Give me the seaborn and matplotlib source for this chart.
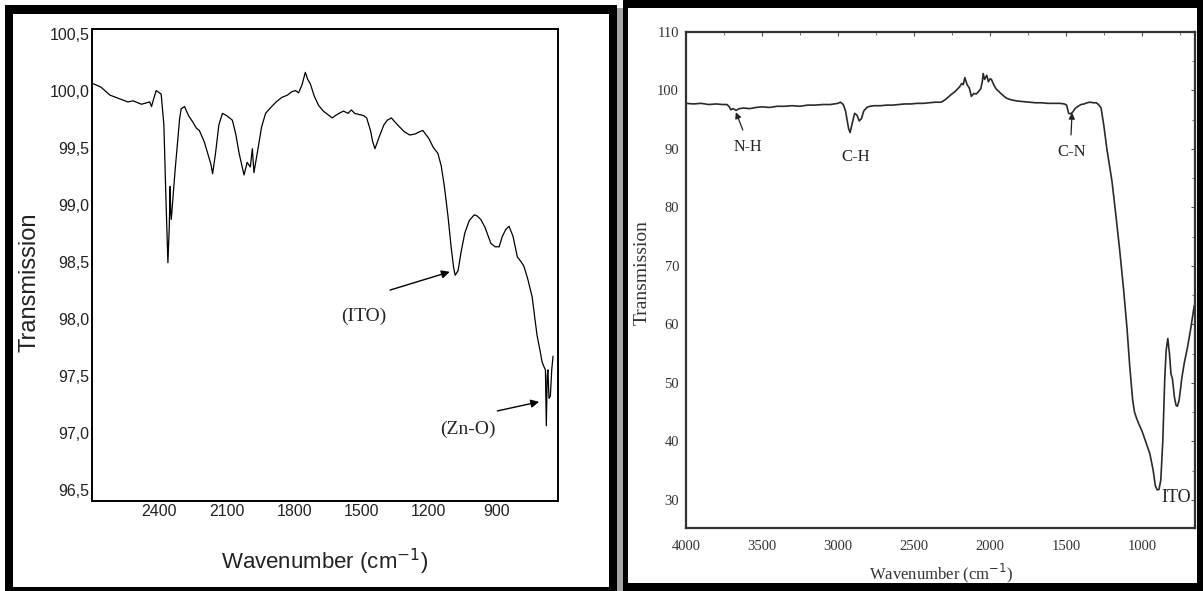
import matplotlib
matplotlib.use("Agg")
import matplotlib.pyplot as plt
from matplotlib import font_manager
from matplotlib.patches import Rectangle
from matplotlib.ticker import FuncFormatter, MultipleLocator
import seaborn as sns

# ---- FTIR spectrum, ZnO/ITO film (left panel) ----
wn_zno = [2694, 2660, 2620, 2580, 2540, 2517, 2480, 2443, 2435, 2425, 2414, 2400, 2392,
          2380, 2370, 2362, 2356, 2352, 2350, 2347, 2330, 2310, 2303, 2288, 2270, 2250,
          2235, 2222, 2200, 2185, 2170, 2163, 2150, 2135, 2119, 2100, 2075, 2060, 2045,
          2030, 2023, 2009, 1995, 1986, 1979, 1960, 1945, 1927, 1900, 1880, 1855, 1830,
          1810, 1794, 1780, 1765, 1750, 1740, 1728, 1710, 1691, 1670, 1650, 1630, 1617,
          1600, 1580, 1560, 1545, 1530, 1510, 1490, 1477, 1460, 1450, 1440, 1420, 1400,
          1385, 1367, 1340, 1310, 1285, 1260, 1240, 1227, 1200, 1180, 1160, 1145, 1131,
          1115, 1101, 1090, 1083, 1070, 1057, 1040, 1020, 998, 985, 969, 950, 924, 905,
          887, 873, 858, 843, 825, 806, 790, 777, 760, 740, 728, 718, 705, 696, 688, 681,
          677, 673, 670, 665, 659, 653, 647]
tr_zno = [100.06, 100.03, 99.96, 99.93, 99.90, 99.91, 99.88, 99.90, 99.86, 99.93, 100.00,
          99.98, 99.97, 99.70, 99.00, 98.49, 98.80, 99.16, 98.95, 98.87, 99.30, 99.75, 99.84,
          99.86, 99.78, 99.72, 99.67, 99.65, 99.55, 99.45, 99.35, 99.27, 99.45, 99.70, 99.80,
          99.78, 99.74, 99.62, 99.45, 99.32, 99.26, 99.37, 99.33, 99.49, 99.28, 99.50, 99.68,
          99.80, 99.86, 99.90, 99.94, 99.96, 99.99, 100.00, 99.98, 100.05, 100.16, 100.10,
          100.06, 99.95, 99.87, 99.82, 99.79, 99.76, 99.78, 99.80, 99.82, 99.80, 99.83,
          99.80, 99.79, 99.78, 99.76, 99.65, 99.55, 99.49, 99.60, 99.70, 99.74, 99.76, 99.70,
          99.64, 99.61, 99.62, 99.64, 99.65, 99.58, 99.50, 99.45, 99.34, 99.16, 98.90, 98.63,
          98.45, 98.38, 98.42, 98.58, 98.75, 98.86, 98.91, 98.90, 98.87, 98.80, 98.66, 98.63,
          98.63, 98.72, 98.78, 98.81, 98.72, 98.54, 98.50, 98.46, 98.35, 98.19, 98.00, 97.85,
          97.72, 97.62, 97.58, 97.55, 97.06, 97.50, 97.55, 97.30, 97.32, 97.55, 97.67]

# ---- FTIR spectrum, organic layer on ITO (right panel) ----
wn_org = [4000, 3950, 3900, 3850, 3800, 3760, 3730, 3715, 3705, 3690, 3670, 3650, 3620,
          3580, 3540, 3500, 3450, 3400, 3350, 3300, 3250, 3200, 3150, 3100, 3050, 3000,
          2984, 2965, 2950, 2940, 2930, 2920, 2905, 2890, 2875, 2860, 2845, 2830, 2810,
          2790, 2760, 2720, 2680, 2640, 2600, 2560, 2520, 2480, 2440, 2400, 2360, 2320,
          2290, 2260, 2230, 2200, 2185, 2175, 2165, 2150, 2135, 2122, 2105, 2090, 2075,
          2060, 2050, 2044, 2035, 2020, 2010, 1998, 1990, 1975, 1960, 1940, 1920, 1892,
          1860, 1820, 1780, 1740, 1700, 1660, 1620, 1580, 1540, 1510, 1495, 1482, 1470,
          1455, 1440, 1420, 1400, 1380, 1360, 1340, 1320, 1300, 1285, 1268, 1250, 1230,
          1196, 1170, 1146, 1120, 1097, 1080, 1060, 1048, 1035, 1020, 999, 975, 947, 925,
          911, 898, 887, 875, 862, 849, 840, 829, 818, 808, 799, 785, 775, 766, 755, 745,
          737, 720, 700, 680, 665, 655]
tr_org = [97.8, 97.7, 97.8, 97.6, 97.7, 97.6, 97.6, 97.2, 96.7, 96.9, 96.6, 96.9, 97.0,
          96.9, 97.1, 97.2, 97.1, 97.3, 97.3, 97.4, 97.3, 97.5, 97.5, 97.6, 97.6, 97.8,
          98.0, 97.6, 96.5, 95.0, 93.5, 92.8, 94.5, 96.1, 95.8, 94.8, 95.2, 96.5, 97.1,
          97.3, 97.4, 97.4, 97.5, 97.5, 97.6, 97.7, 97.7, 97.8, 97.8, 97.9, 98.0, 98.0,
          98.5, 99.2, 99.8, 100.6, 101.2, 101.0, 102.2, 101.0, 100.4, 99.0, 99.5, 99.4,
          99.8, 100.3, 101.5, 102.9, 101.9, 102.6, 101.5, 102.0, 101.9, 101.0, 100.3, 99.8,
          99.3, 98.7, 98.4, 98.2, 98.1, 98.0, 97.9, 97.9, 97.8, 97.8, 97.8, 97.7, 97.5,
          96.1, 96.0, 96.3, 96.9, 97.3, 97.6, 97.7, 97.9, 98.0, 97.9, 97.9, 97.6, 97.0,
          94.0, 90.0, 84.4, 78.5, 72.8, 66.0, 59.2, 53.0, 47.0, 45.0, 44.0, 43.0, 41.8,
          40.0, 37.9, 35.0, 32.4, 31.7, 31.8, 33.4, 40.0, 50.8, 55.5, 57.6, 55.0, 51.5,
          50.8, 47.5, 46.2, 46.0, 47.0, 49.0, 50.8, 53.5, 56.0, 59.0, 61.5, 63.2]

zno_xticks = [2400, 2100, 1800, 1500, 1200, 900]
zno_yticks = [96.5, 97.0, 97.5, 98.0, 98.5, 99.0, 99.5, 100.0, 100.5]
org_xticks = [4000, 3500, 3000, 2500, 2000, 1500, 1000]
org_yticks = [30, 40, 50, 60, 70, 80, 90, 100, 110]

sns.set_style("white")
installed = {f.name for f in font_manager.fontManager.ttflist}
narrow = "Liberation Sans Narrow" if "Liberation Sans Narrow" in installed else "Liberation Sans"
SERIF = ["Liberation Serif", "DejaVu Serif"]
plt.rcParams["font.family"] = ["Liberation Sans", "DejaVu Sans"]
plt.rcParams["mathtext.fontset"] = "custom"

W, H = 1203, 591
fig = plt.figure(figsize=(W / 100, H / 100), dpi=100)
fig.patch.set_facecolor("white")


def px_axes(x0, y0, x1, y1):
    return fig.add_axes([x0 / W, 1 - y1 / H, (x1 - x0) / W, (y1 - y0) / H])


def band(x0, y0, x1, y1, color="black"):
    fig.add_artist(Rectangle((x0 / W, 1 - y1 / H), (x1 - x0) / W, (y1 - y0) / H,
                             transform=fig.transFigure, color=color, lw=0, zorder=10))


# ---------------- left panel ----------------
ax1 = px_axes(92, 29, 558, 501)
sns.lineplot(x=wn_zno, y=tr_zno, ax=ax1, sort=False, estimator=None,
             color="black", linewidth=0.9)
ax1.set_xlim(2700, 625)
ax1.set_ylim(96.4, 100.54)
ax1.set_xticks(zno_xticks)
ax1.set_yticks(zno_yticks)
ax1.yaxis.set_major_formatter(FuncFormatter(lambda v, _: f"{v:.1f}".replace(".", ",")))
ax1.tick_params(length=0, pad=2, labelsize=11.5, labelcolor="#222222")
for lab in ax1.get_xticklabels() + ax1.get_yticklabels():
    lab.set_fontfamily(narrow)
for sp in ax1.spines.values():
    sp.set_visible(True)
    sp.set_color("black")
    sp.set_linewidth(1.4)
ax1.set_xlabel("Wavenumber (cm$^{-1}$)", fontsize=16, family=narrow, color="#222222")
ax1.set_ylabel("Transmission", fontsize=17, color="#222222")
ax1.xaxis.set_label_coords(0.5, -0.129)
ax1.xaxis.label.set_va("center")
ax1.yaxis.set_label_coords(-0.134, 0.464)
ax1.yaxis.label.set_va("center")

ax1.text(1492, 98.02, "(ITO)", family=SERIF, fontsize=14, ha="center", va="center")
ax1.annotate("", xy=(1107, 98.41), xytext=(1373, 98.25),
             arrowprops=dict(arrowstyle="-|>", color="black", lw=1.0,
                             mutation_scale=12, shrinkA=0, shrinkB=0))
ax1.text(1027, 97.03, "(Zn-O)", family=SERIF, fontsize=14, ha="center", va="center")
ax1.annotate("", xy=(709, 97.27), xytext=(895, 97.19),
             arrowprops=dict(arrowstyle="-|>", color="black", lw=1.0,
                             mutation_scale=12, shrinkA=0, shrinkB=0))

# ---------------- right panel ----------------
ax2 = px_axes(686, 32, 1195, 528)
sns.lineplot(x=wn_org, y=tr_org, ax=ax2, sort=False, estimator=None,
             color="#2a2a2a", linewidth=1.2)
ax2.set_xlim(4000, 650)
ax2.set_ylim(25.2, 110)
ax2.set_xticks(org_xticks)
ax2.set_yticks(org_yticks)
ax2.xaxis.set_minor_locator(MultipleLocator(250))
ax2.yaxis.set_minor_locator(MultipleLocator(5))
ax2.tick_params(which="both", direction="in", top=True, right=True, color="#555555")
ax2.tick_params(which="major", length=3, width=0.8, labelsize=10.5, labelcolor="#333333")
ax2.tick_params(which="minor", length=2, width=0.6)
ax2.tick_params(axis="x", pad=9)
ax2.tick_params(axis="y", pad=5)
for lab in ax2.get_xticklabels() + ax2.get_yticklabels():
    lab.set_fontfamily(SERIF)
for sp in ax2.spines.values():
    sp.set_visible(True)
    sp.set_color("#333333")
    sp.set_linewidth(1.6)
ax2.set_xlabel("Wavenumber (cm$^{-1}$)", fontsize=12, family=SERIF, color="#333333")
ax2.set_ylabel("Transmission", fontsize=14, family=SERIF, color="#333333")
ax2.xaxis.set_label_coords(0.501, -0.091)
ax2.xaxis.label.set_va("center")
ax2.yaxis.set_label_coords(-0.086, 0.514)
ax2.yaxis.label.set_va("center")

ax2.text(3593, 90.3, "N-H", family=SERIF, fontsize=11.5, ha="center", va="center", color="#222222")
ax2.annotate("", xy=(3672, 96.3), xytext=(3626, 93.25),
             arrowprops=dict(arrowstyle="-|>", color="#222222", lw=0.9,
                             mutation_scale=9, shrinkA=0, shrinkB=0))
ax2.text(2884, 88.6, "C-H", family=SERIF, fontsize=12, ha="center", va="center", color="#222222")
ax2.text(1459, 89.5, "C-N", family=SERIF, fontsize=12, ha="center", va="center", color="#222222")
ax2.annotate("", xy=(1459, 96.2), xytext=(1466, 92.4),
             arrowprops=dict(arrowstyle="-|>", color="#222222", lw=0.9,
                             mutation_scale=9, shrinkA=0, shrinkB=0))
ax2.text(776, 30.5, "ITO", family=SERIF, fontsize=13, ha="center", va="center", color="#222222")

# ---------------- panel frames ----------------
band(5, 5, 617, 14)
band(5, 5, 13, 591)
band(609, 5, 617, 591)
band(5, 587, 617, 591)
band(617, 8, 623, 591, color="#a6a6a6")
band(623, 0, 628, 591)
band(623, 0, 1203, 8)
band(1197, 0, 1203, 591)
band(623, 583, 1203, 591)

fig.savefig("out.png", dpi=100, facecolor="white")
